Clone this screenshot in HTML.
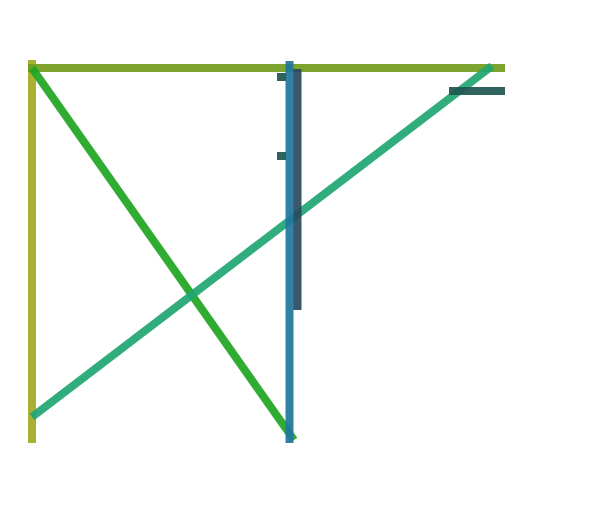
<!DOCTYPE html>
<html><head><meta charset="utf-8"><style>html,body{margin:0;padding:0;background:#fff}svg{display:block}</style></head>
<body>
<svg width="600" height="521" viewBox="0 0 600 521" xmlns="http://www.w3.org/2000/svg">
<g stroke-width="8" stroke-linecap="butt" stroke-opacity="0.92">
<line x1="32" y1="60" x2="32" y2="443" stroke="#a3a91f"/>
<line x1="28" y1="68" x2="505" y2="68" stroke="#729c1c"/>
<line x1="32" y1="68" x2="294" y2="440" stroke="#1ea522"/>
<line x1="32" y1="417" x2="492" y2="66" stroke="#1ea572"/>
<line x1="289.5" y1="61" x2="289.5" y2="443" stroke="#1f769c"/>
<line x1="297.5" y1="69" x2="297.5" y2="310" stroke="#284a62"/>
<line x1="277" y1="77" x2="286" y2="77" stroke="#1f5650"/>
<line x1="277" y1="156" x2="286" y2="156" stroke="#1f5650"/>
<line x1="449" y1="91" x2="505" y2="91" stroke="#1f5650"/>
</g>
</svg>
</body></html>
